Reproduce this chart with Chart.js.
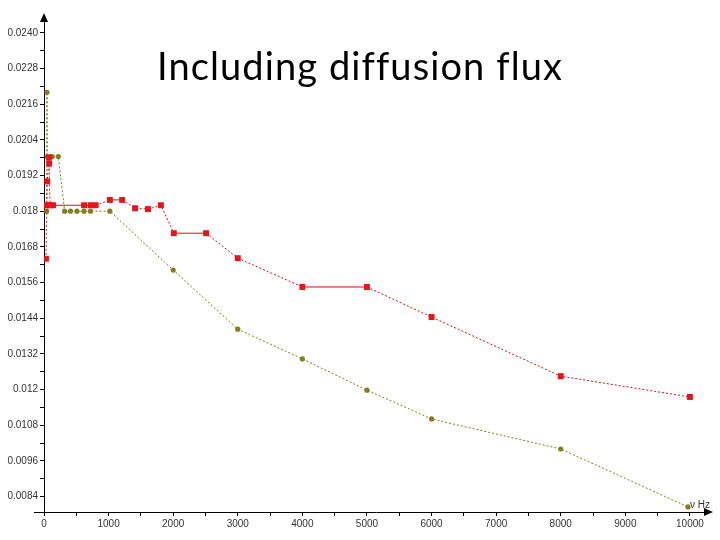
<!DOCTYPE html>
<html lang="en">
<head>
    <meta charset="UTF-8">
    <title>Including diffusion flux</title>
    <script src="https://cdn.jsdelivr.net/npm/chart.js"></script>
    <style>
        body { margin: 0; background: #fff; }
        #wrap { position: relative; width: 720px; height: 540px; }
        #title {
            position: absolute; left: 0; width: 720px; top: 42px;
            text-align: center; font-family: Lato, "Open Sans", sans-serif;
            font-size: 38px; letter-spacing: 1.1px; color: #000;
        }
    </style>
</head>
<body>
    <div id="wrap">
        <canvas id="fluxChart" width="720" height="540"></canvas>
        <div id="title">Including diffusion flux</div>
    </div>

    <script>
        // red series (squares)
        const redX = [30, 45, 50, 77, 80, 93, 140, 620, 720, 800, 1020, 1210, 1410, 1610, 1810, 2010, 2510, 3000, 4000, 5000, 6000, 8000, 10000];
        const redY = [0.0164, 0.0182, 0.0190, 0.0198, 0.0196, 0.0182, 0.0182, 0.0182, 0.0182, 0.0182, 0.01838, 0.01838, 0.0181, 0.01807, 0.0182, 0.01726, 0.01726, 0.01642, 0.01545, 0.01545, 0.01444, 0.01245, 0.01175];

        // olive series (dots)
        const oliveX = [40, 46, 51, 104, 128, 221, 320, 410, 510, 620, 720, 1020, 2000, 3000, 4000, 5000, 6000, 8000, 9970];
        const oliveY = [0.018, 0.0220, 0.01984, 0.01984, 0.01984, 0.01984, 0.018, 0.018, 0.018, 0.018, 0.018, 0.018, 0.01602, 0.01403, 0.01303, 0.01198, 0.01101, 0.0100, 0.00805];

        // axis ticks
        const yTickLabels = ['0.0084', '0.0096', '0.0108', '0.012', '0.0132', '0.0144', '0.0156', '0.0168', '0.018', '0.0192', '0.0204', '0.0216', '0.0228', '0.0240'];
        const xTickLabels = ['0', '1000', '2000', '3000', '4000', '5000', '6000', '7000', '8000', '9000', '10000'];

        const toPoints = (xs, ys) => xs.map((x, i) => ({ x: x, y: ys[i] }));

        const yMajor = yTickLabels.map(Number);
        const yTicks = [];
        yMajor.forEach((v, i) => {
            yTicks.push({ value: v });
            if (i < yMajor.length - 1) yTicks.push({ value: +(v + 0.0006).toFixed(4) });
        });
        const xTicks = [];
        for (let i = 0; i <= 20; i++) xTicks.push({ value: i * 500 });

        const tickFont = { family: '"Liberation Sans Narrow", "Liberation Sans", sans-serif', size: 10 };

        // arrows at the axis ends and the unit label
        const axisArrows = {
            id: 'axisArrows',
            afterDraw(chart) {
                const { ctx, chartArea } = chart;
                const l = chartArea.left, r = chartArea.right, t = chartArea.top, b = chartArea.bottom;
                ctx.save();
                ctx.fillStyle = '#000';
                ctx.beginPath();
                ctx.moveTo(l, t - 5); ctx.lineTo(l - 4, t + 4); ctx.lineTo(l + 4, t + 4); ctx.closePath();
                ctx.fill();
                ctx.beginPath();
                ctx.moveTo(r + 5, b); ctx.lineTo(r - 4, b - 4); ctx.lineTo(r - 4, b + 4); ctx.closePath();
                ctx.fill();
                ctx.strokeStyle = '#000';
                ctx.lineWidth = 1;
                ctx.beginPath();
                ctx.moveTo(l - 10, b + 0.5); ctx.lineTo(l, b + 0.5);
                ctx.stroke();
                ctx.font = '10px "Liberation Sans", sans-serif';
                ctx.fillStyle = '#333';
                ctx.textAlign = 'right';
                ctx.fillText('ν Hz', r + 2, b - 4);
                ctx.restore();
            }
        };

        new Chart(document.getElementById('fluxChart'), {
            type: 'scatter',
            data: {
                datasets: [
                    {
                        label: 'red',
                        data: toPoints(redX, redY),
                        showLine: true,
                        borderColor: '#d41010',
                        borderWidth: 1,
                        backgroundColor: '#e8141c',
                        pointStyle: 'rect',
                        pointRadius: 4.2,
                        pointBorderWidth: 0,
                        segment: {
                            borderDash: ctx => ctx.p0.parsed.y === ctx.p1.parsed.y ? [] : [2, 2]
                        }
                    },
                    {
                        label: 'olive',
                        data: toPoints(oliveX, oliveY),
                        showLine: true,
                        borderColor: '#7d7d10',
                        borderWidth: 1,
                        borderDash: [2, 2],
                        backgroundColor: '#808020',
                        pointRadius: 2.6,
                        pointBorderWidth: 0
                    }
                ]
            },
            options: {
                responsive: false,
                animation: false,
                layout: { padding: { left: 0, right: 12, top: 18, bottom: 0 } },
                plugins: {
                    legend: { display: false },
                    tooltip: { enabled: false }
                },
                scales: {
                    x: {
                        type: 'linear',
                        min: 0,
                        max: 10280,
                        afterBuildTicks: scale => { scale.ticks = xTicks.slice(); },
                        afterFit: scale => { scale.height = 28; },
                        grid: { drawOnChartArea: false, color: '#000', tickLength: 4 },
                        border: { color: '#000', width: 1 },
                        ticks: {
                            autoSkip: false,
                            maxRotation: 0,
                            padding: 2,
                            color: '#333',
                            font: tickFont,
                            callback: v => v % 1000 === 0 ? xTickLabels[v / 1000] : ''
                        }
                    },
                    y: {
                        type: 'linear',
                        min: 0.00788,
                        max: 0.0245,
                        afterBuildTicks: scale => { scale.ticks = yTicks.slice(); },
                        afterFit: scale => { scale.width = 44; },
                        grid: { drawOnChartArea: false, color: '#000', tickLength: 4 },
                        border: { color: '#000', width: 1 },
                        ticks: {
                            autoSkip: false,
                            padding: 2,
                            color: '#333',
                            font: tickFont,
                            callback: v => {
                                const i = yMajor.findIndex(m => Math.abs(m - v) < 1e-7);
                                return i >= 0 ? yTickLabels[i] : '';
                            }
                        }
                    }
                }
            },
            plugins: [axisArrows]
        });
    </script>
</body>
</html>
